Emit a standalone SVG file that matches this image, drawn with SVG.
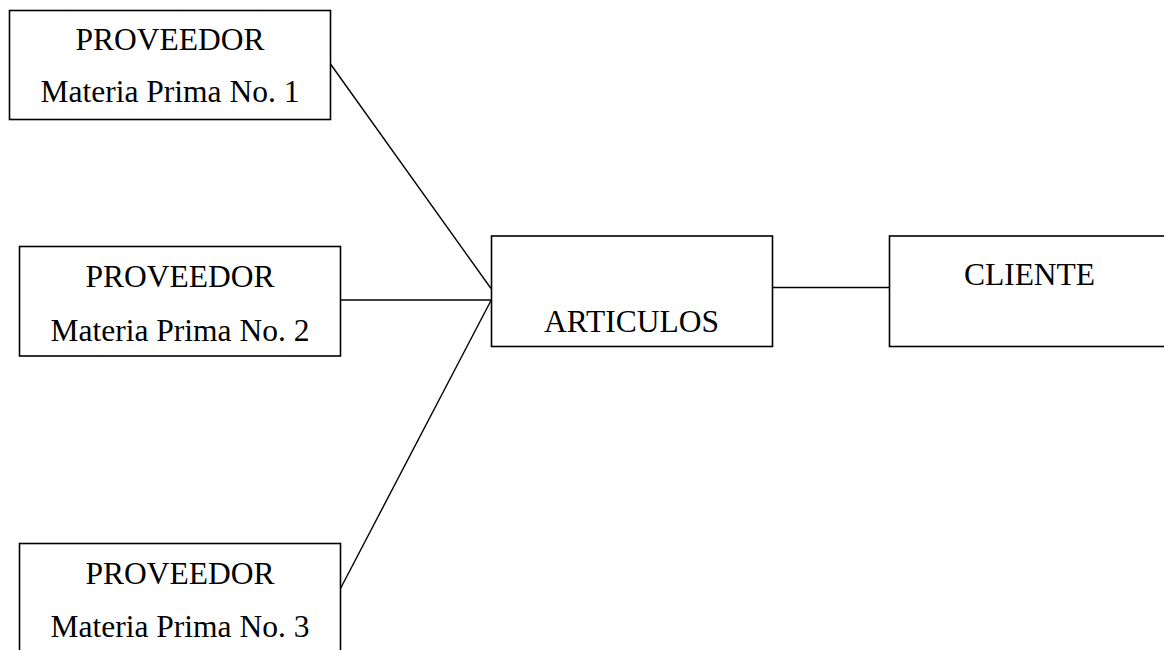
<svg xmlns="http://www.w3.org/2000/svg" width="1164" height="650" viewBox="0 0 1164 650">
<style>
.box{fill:#fff;stroke:#000;stroke-width:1.6}
.t{font-family:"Liberation Serif","Times New Roman",serif;font-size:31.5px;fill:#000;text-anchor:middle}
.c{stroke:#000;stroke-width:1.4;fill:none}
</style>
<rect width="1164" height="650" fill="#fff"/>
<g id="connectors">
<line class="c" x1="330.5" y1="64" x2="491" y2="288.5"/>
<line class="c" x1="340.5" y1="300" x2="491" y2="300"/>
<line class="c" x1="340.5" y1="588.5" x2="491" y2="300.5"/>
<line class="c" x1="772" y1="287.5" x2="889" y2="287.5"/>
</g>
<g id="prov1">
<rect class="box" x="9.5" y="10.5" width="321" height="109"/>
<text class="t" x="170" y="50">PROVEEDOR</text>
<text class="t" x="170" y="102">Materia Prima No. 1</text>
</g>
<g id="prov2">
<rect class="box" x="19.5" y="246.5" width="321" height="109.5"/>
<text class="t" x="180" y="286.5">PROVEEDOR</text>
<text class="t" x="180" y="340.5">Materia Prima No. 2</text>
</g>
<g id="prov3">
<rect class="box" x="19.5" y="543.5" width="321" height="120"/>
<text class="t" x="180" y="583.5">PROVEEDOR</text>
<text class="t" x="180" y="636.5">Materia Prima No. 3</text>
</g>
<g id="articulos">
<rect class="box" x="491.5" y="236" width="281" height="110.5"/>
<text class="t" x="631.5" y="331.5">ARTICULOS</text>
</g>
<g id="cliente">
<rect class="box" x="889.5" y="236" width="281" height="110.5"/>
<text class="t" x="1029.5" y="285">CLIENTE</text>
</g>
</svg>
